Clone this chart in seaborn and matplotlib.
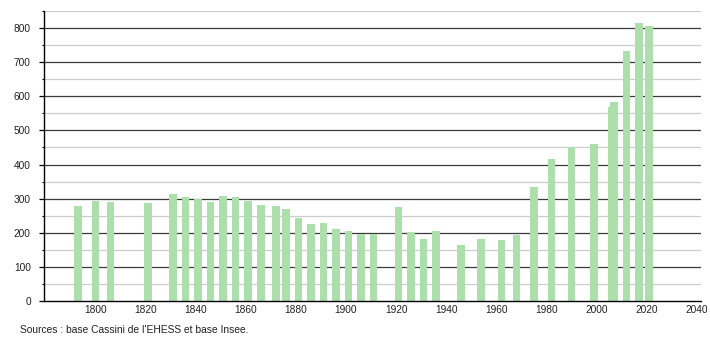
import matplotlib
matplotlib.use("Agg")
import matplotlib.pyplot as plt
from matplotlib.ticker import MultipleLocator
import seaborn as sns
import pandas as pd

years = [1793, 1800, 1806, 1821, 1831, 1836, 1841, 1846, 1851, 1856, 1861, 1866,
         1872, 1876, 1881, 1886, 1891, 1896, 1901, 1906, 1911, 1921, 1926, 1931,
         1936, 1946, 1954, 1962, 1968, 1975, 1982, 1990, 1999, 2006, 2007, 2012,
         2017, 2021]
population = [278, 293, 290, 287, 313, 305, 300, 291, 309, 305, 293, 282,
              279, 270, 243, 226, 230, 211, 205, 197, 196, 275, 201, 182,
              205, 164, 182, 179, 194, 334, 416, 450, 461, 568, 583, 734,
              815, 805]
x_ticks = [1800, 1820, 1840, 1860, 1880, 1900, 1920, 1940, 1960, 1980, 2000, 2020, 2040]
y_ticks = [0, 100, 200, 300, 400, 500, 600, 700, 800]
source_text = "Sources : base Cassini de l'EHESS et base Insee."

df = pd.DataFrame({"year": years, "pop": population})

sns.set_style("white")
plt.rcParams["font.family"] = ["Liberation Sans", "DejaVu Sans"]

fig = plt.figure(figsize=(7.1, 3.4), dpi=100)
ax = fig.add_axes([44 / 710, 1 - 301 / 340, (700.5 - 44) / 710, (301 - 11) / 340])

sns.barplot(data=df, x="year", y="pop", native_scale=True, width=3.0,
            color="#acdfac", saturation=1, errorbar=None, ax=ax, zorder=3,
            edgecolor="none", linewidth=0)

ax.set_xlim(1779.5, 2041.5)
ax.set_ylim(0, 850)
ax.set_xticks(x_ticks)
ax.set_xticklabels([str(t) for t in x_ticks])
ax.set_yticks(y_ticks)
ax.set_yticklabels([str(t) for t in y_ticks])
ax.yaxis.set_minor_locator(MultipleLocator(50))

ax.set_axisbelow(True)
ax.grid(False)
for v in y_ticks[1:]:
    ax.axhline(v, color="#3a3a3a", linewidth=0.9, zorder=1)
for v in range(50, 900, 100):
    ax.axhline(v, color="#cccccc", linewidth=0.9, zorder=1)

for s in ["top", "right"]:
    ax.spines[s].set_visible(False)
for s in ["left", "bottom"]:
    ax.spines[s].set_color("black")
    ax.spines[s].set_linewidth(1.0)
    ax.spines[s].set_zorder(4)

ax.tick_params(axis="y", which="major", length=3.5, width=0.9, color="black",
               labelsize=7.3, pad=6, left=True, labelcolor="#222222")
ax.tick_params(axis="y", which="minor", length=1.8, width=0.8, color="black", left=True)
ax.tick_params(axis="x", which="major", length=0, labelsize=7.3, pad=3, labelcolor="#222222")
ax.set_xlabel("")
ax.set_ylabel("")

fig.text(20 / 710, 1 - 330 / 340, source_text, fontsize=7.4, color="#222222",
         ha="left", va="center")

fig.savefig("out.png", dpi=100)
